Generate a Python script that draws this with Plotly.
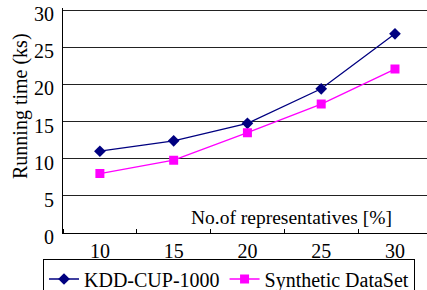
import plotly.graph_objects as go

categories = [10, 15, 20, 25, 30]
kdd = [11.0, 12.4, 14.75, 19.4, 26.8]
synthetic = [8.0, 9.8, 13.5, 17.35, 22.05]
y_ticks = [0, 5, 10, 15, 20, 25, 30]

FONT = "Liberation Serif"
W, H = 427, 290
Y_MAX = 30.3
PX_PER_UNIT = 223 / 30
TOP_PX = 233 - Y_MAX * PX_PER_UNIT

fig = go.Figure()
fig.add_trace(go.Scatter(
    x=categories, y=kdd, name="KDD-CUP-1000", mode="lines+markers",
    line=dict(color="#000080", width=1.3),
    marker=dict(symbol="diamond", size=9, color="#000080"),
))
fig.add_trace(go.Scatter(
    x=categories, y=synthetic, name="Synthetic DataSet", mode="lines+markers",
    line=dict(color="#FF00FF", width=1.3),
    marker=dict(symbol="square", size=9, color="#FF00FF"),
))

fig.update_layout(
    width=W, height=H,
    margin=dict(l=0, r=0, t=0, b=0, autoexpand=False),
    paper_bgcolor="white", plot_bgcolor="white",
    font=dict(family=FONT, size=20, color="black"),
    showlegend=True,
    legend=dict(
        orientation="h", x=43 / W, y=1 - 258.5 / H, xanchor="left", yanchor="top",
        bordercolor="black", borderwidth=1, bgcolor="white",
        font=dict(family=FONT, size=20, color="black"),
        itemwidth=30, tracegroupgap=0,
    ),
    xaxis=dict(
        domain=[63 / W, 1],
        range=[7.5, 32.17], tickvals=categories, ticktext=[str(c) for c in categories],
        ticks="", showgrid=False, zeroline=False, automargin=True,
        showline=True, linecolor="black", linewidth=1,
        tickfont=dict(family=FONT, size=20), ticklabeloverflow="allow",
        minor=dict(tick0=12.5, dtick=5, ticks="inside", ticklen=4, tickcolor="black", showgrid=False),
    ),
    yaxis=dict(
        domain=[1 - 233 / H, 1 - TOP_PX / H],
        range=[0, Y_MAX], tickvals=y_ticks, ticks="", showgrid=True,
        gridcolor="#222222", gridwidth=1, zeroline=False, automargin=True,
        showline=True, linecolor="black", linewidth=1,
        tickfont=dict(family=FONT, size=20), ticklabelstandoff=4, ticklabelshift=4,
        ticklabeloverflow="allow",
    ),
    annotations=[
        dict(
            text="No.of representatives [%]", xref="paper", yref="paper",
            x=291 / W, y=1 - 217 / H, xanchor="center", yanchor="middle", showarrow=False,
            font=dict(family=FONT, size=19.5, color="black"),
        ),
        dict(
            text="Running time (ks)", xref="paper", yref="paper",
            x=20 / W, y=1 - 106 / H, xanchor="center", yanchor="middle", showarrow=False,
            textangle=-90, font=dict(family=FONT, size=20, color="black"),
        ),
    ],
)

fig.write_html("out.html", config={"displayModeBar": False},
               post_script="document.body.style.margin='0px';")
